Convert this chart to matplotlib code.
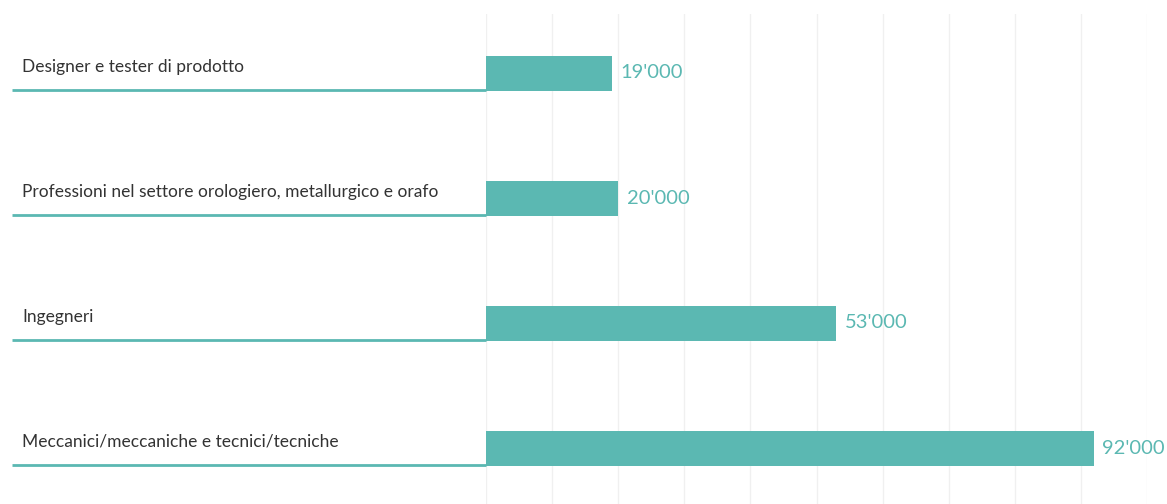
import matplotlib.pyplot as plt
import matplotlib.transforms as mtransforms

categories = ['Designer e tester di prodotto',
              'Professioni nel settore orologiero, metallurgico e orafo',
              'Ingegneri',
              'Meccanici/meccaniche e tecnici/tecniche']
values = [19000, 20000, 53000, 92000]
value_labels = ["19'000", "20'000", "53'000", "92'000"]

teal = '#5bb8b2'
plt.rcParams['font.family'] = ['Lato', 'DejaVu Sans']

W, H = 1167, 504
fig = plt.figure(figsize=(W / 100, H / 100), dpi=100)
# axes in pixel coords: x 486..1147, y 14..504 (from top)
ax = fig.add_axes([486 / W, 0, (1147 - 486) / W, (504 - 14) / H])

ypos = list(range(len(categories)))
ax.barh(ypos, values, height=0.28, color=teal, zorder=3)
ax.set_xlim(0, 100000)
ax.set_ylim((504 - 73) / 125, -(73 - 14) / 125)

for x in range(0, 100001, 10000):
    ax.axvline(x, color='#f0f0f0', lw=1, zorder=0)

for s in ax.spines.values():
    s.set_visible(False)
ax.set_xticks([])
ax.set_yticks([])

# left labels and underline
trans = mtransforms.blended_transform_factory(fig.transFigure, ax.transData)
for i, (cat, v, lab) in enumerate(zip(categories, values, value_labels)):
    ax.text(22 / W, i - 0.01, cat, transform=trans, ha='left', va='baseline',
            fontsize=12.5, color='#333333')
    ax.plot([12 / W, 486 / W], [i + 0.135, i + 0.135], transform=trans,
            color=teal, lw=2, clip_on=False, solid_capstyle='butt')
    ax.annotate(lab, xy=(v, i), xytext=(6, 0), textcoords='offset points',
                ha='left', va='center', fontsize=14.5, color=teal)

fig.savefig('out.png', dpi=100)
